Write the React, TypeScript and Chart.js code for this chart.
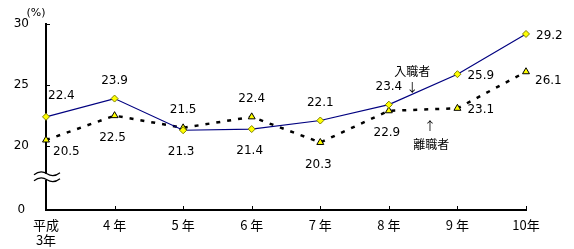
import React, { useEffect, useRef } from "react";
import { Chart, registerables } from "chart.js";

Chart.register(...registerables);

const categories: (string | string[])[] = [["平成", "3年"], "4 年", "5 年", "6 年", "7 年", "8 年", "9 年", "10年"];
const hires = [22.4, 23.9, 21.3, 21.4, 22.1, 23.4, 25.9, 29.2]; // 入職者
const leavers = [20.5, 22.5, 21.5, 22.4, 20.3, 22.9, 23.1, 26.1]; // 離職者
const hiresPlacement = ["ne", "n", "s", "s", "n", "n", "e", "e"];
const leaversPlacement = ["se", "s", "n", "n", "s", "s", "e", "es"];
const yBottom = 14.76; // broken axis: shown as 0
const yTickValues = [yBottom, 20, 25, 30];

const FONT = '"DejaVu Sans", "Noto Sans CJK JP", sans-serif';
const CJK = '"Noto Sans CJK JP", sans-serif';

const offsets: Record<string, { dx: number; dy: number; align: CanvasTextAlign }> = {
  ne: { dx: 2, dy: -21, align: "left" },
  se: { dx: 7, dy: 12, align: "left" },
  n: { dx: 0, dy: -18, align: "center" },
  s: { dx: -2, dy: 22, align: "center" },
  e: { dx: 10, dy: 2, align: "left" },
  es: { dx: 9, dy: 9, align: "left" },
};

const overlay = {
  id: "overlay",
  afterDatasetsDraw(chart: any) {
    const { ctx, chartArea } = chart;
    const x = chart.scales.x;
    const y = chart.scales.y;
    ctx.save();
    // inward tick marks
    ctx.strokeStyle = "#000";
    ctx.lineWidth = 1;
    for (let i = 1; i < categories.length; i++) {
      const px = Math.round(x.getPixelForValue(i)) + 0.5;
      ctx.beginPath();
      ctx.moveTo(px, chartArea.bottom);
      ctx.lineTo(px, chartArea.bottom - 4);
      ctx.stroke();
    }
    for (const v of yTickValues.slice(1)) {
      const py = Math.round(y.getPixelForValue(v)) + 0.5;
      ctx.beginPath();
      ctx.moveTo(chartArea.left, py);
      ctx.lineTo(chartArea.left + 4, py);
      ctx.stroke();
    }
    // axis break symbol
    const p20 = y.getPixelForValue(20);
    const by = chartArea.bottom - (chartArea.bottom - p20) * 0.52;
    const lx = chartArea.left;
    ctx.fillStyle = "#fff";
    ctx.fillRect(lx - 2, by - 3, 4, 6);
    ctx.lineWidth = 1.2;
    for (const yy of [by - 3, by + 3]) {
      ctx.beginPath();
      ctx.moveTo(lx - 12, yy + 1);
      ctx.bezierCurveTo(lx - 7, yy - 3, lx - 2, yy - 2, lx + 1, yy);
      ctx.bezierCurveTo(lx + 4, yy + 2, lx + 9, yy + 3, lx + 14, yy - 1);
      ctx.stroke();
    }
    // data labels
    ctx.fillStyle = "#000";
    ctx.font = `12px ${FONT}`;
    ctx.textBaseline = "middle";
    const series = [
      { idx: 0, vals: hires, place: hiresPlacement },
      { idx: 1, vals: leavers, place: leaversPlacement },
    ];
    for (const s of series) {
      const meta = chart.getDatasetMeta(s.idx);
      meta.data.forEach((pt: any, i: number) => {
        const o = offsets[s.place[i]];
        ctx.textAlign = o.align;
        ctx.fillText(s.vals[i].toFixed(1), pt.x + o.dx, pt.y + o.dy);
      });
    }
    // "(%)"
    ctx.textAlign = "center";
    ctx.font = `11px ${FONT}`;
    ctx.fillText("(%)", 36, chartArea.top - 11);
    // series annotations
    ctx.font = `12px ${CJK}`;
    const between = (a: number, b: number, f: number) => {
      const pa = x.getPixelForValue(a);
      const pb = x.getPixelForValue(b);
      return pa + (pb - pa) * f;
    };
    ctx.fillText("入職者", between(5, 6, 0.34), y.getPixelForValue(26.1));
    ctx.fillText("↓", between(5, 6, 0.34), y.getPixelForValue(24.85));
    ctx.fillText("離職者", between(5, 6, 0.62), y.getPixelForValue(20.15));
    ctx.fillText("↑", between(5, 6, 0.6), y.getPixelForValue(21.6));
    ctx.restore();
  },
};

export default function App() {
  const ref = useRef<HTMLCanvasElement>(null);
  useEffect(() => {
    if (!ref.current) return;
    const chart = new Chart(ref.current, {
      type: "line",
      data: {
        labels: categories as any,
        datasets: [
          {
            label: "入職者",
            data: hires,
            borderColor: "#000080",
            borderWidth: 1.2,
            pointStyle: "rectRot",
            pointRadius: 3.5,
            pointBackgroundColor: "#ffff00",
            pointBorderColor: "#808000",
            pointBorderWidth: 1,
            tension: 0,
            clip: false as any,
          },
          {
            label: "離職者",
            data: leavers,
            borderColor: "#000",
            borderWidth: 2.5,
            borderDash: [4, 7],
            pointStyle: "triangle",
            pointRadius: 4,
            pointBackgroundColor: "#ffff00",
            pointBorderColor: "#000",
            pointBorderWidth: 1,
            tension: 0,
            clip: false as any,
          },
        ],
      },
      options: {
        animation: false,
        responsive: false,
        devicePixelRatio: 1,
        layout: { padding: { top: 18, right: 48, left: 0, bottom: 0 } },
        plugins: { legend: { display: false }, tooltip: { enabled: false } },
        events: [],
        scales: {
          x: {
            type: "category",
            offset: false,
            grid: { display: false, drawTicks: false },
            border: { display: true, color: "#000", width: 2 },
            ticks: {
              color: "#000",
              font: { size: 13, family: CJK },
              padding: 7,
              maxRotation: 0,
              autoSkip: false,
            },
            afterFit: (s: any) => {
              s.height = 39;
            },
          },
          y: {
            type: "linear",
            min: yBottom,
            max: 30,
            grid: { display: false, drawTicks: false },
            border: { display: true, color: "#000", width: 2 },
            ticks: {
              color: "#000",
              font: { size: 12, family: FONT },
              padding: 17,
              crossAlign: "center",
              callback: (v: any) => (v === yBottom ? "0" : String(v)),
            },
            afterBuildTicks: (s: any) => {
              s.ticks = yTickValues.map((v) => ({ value: v }));
            },
            afterFit: (s: any) => {
              s.width = 46;
            },
          },
        },
      },
      plugins: [overlay],
    });
    return () => chart.destroy();
  }, []);
  return (
    <div style={{ position: "absolute", left: 0, top: 0, width: 574, height: 249, background: "#fff" }}>
      <canvas ref={ref} width={574} height={249} style={{ display: "block" }} />
    </div>
  );
}
